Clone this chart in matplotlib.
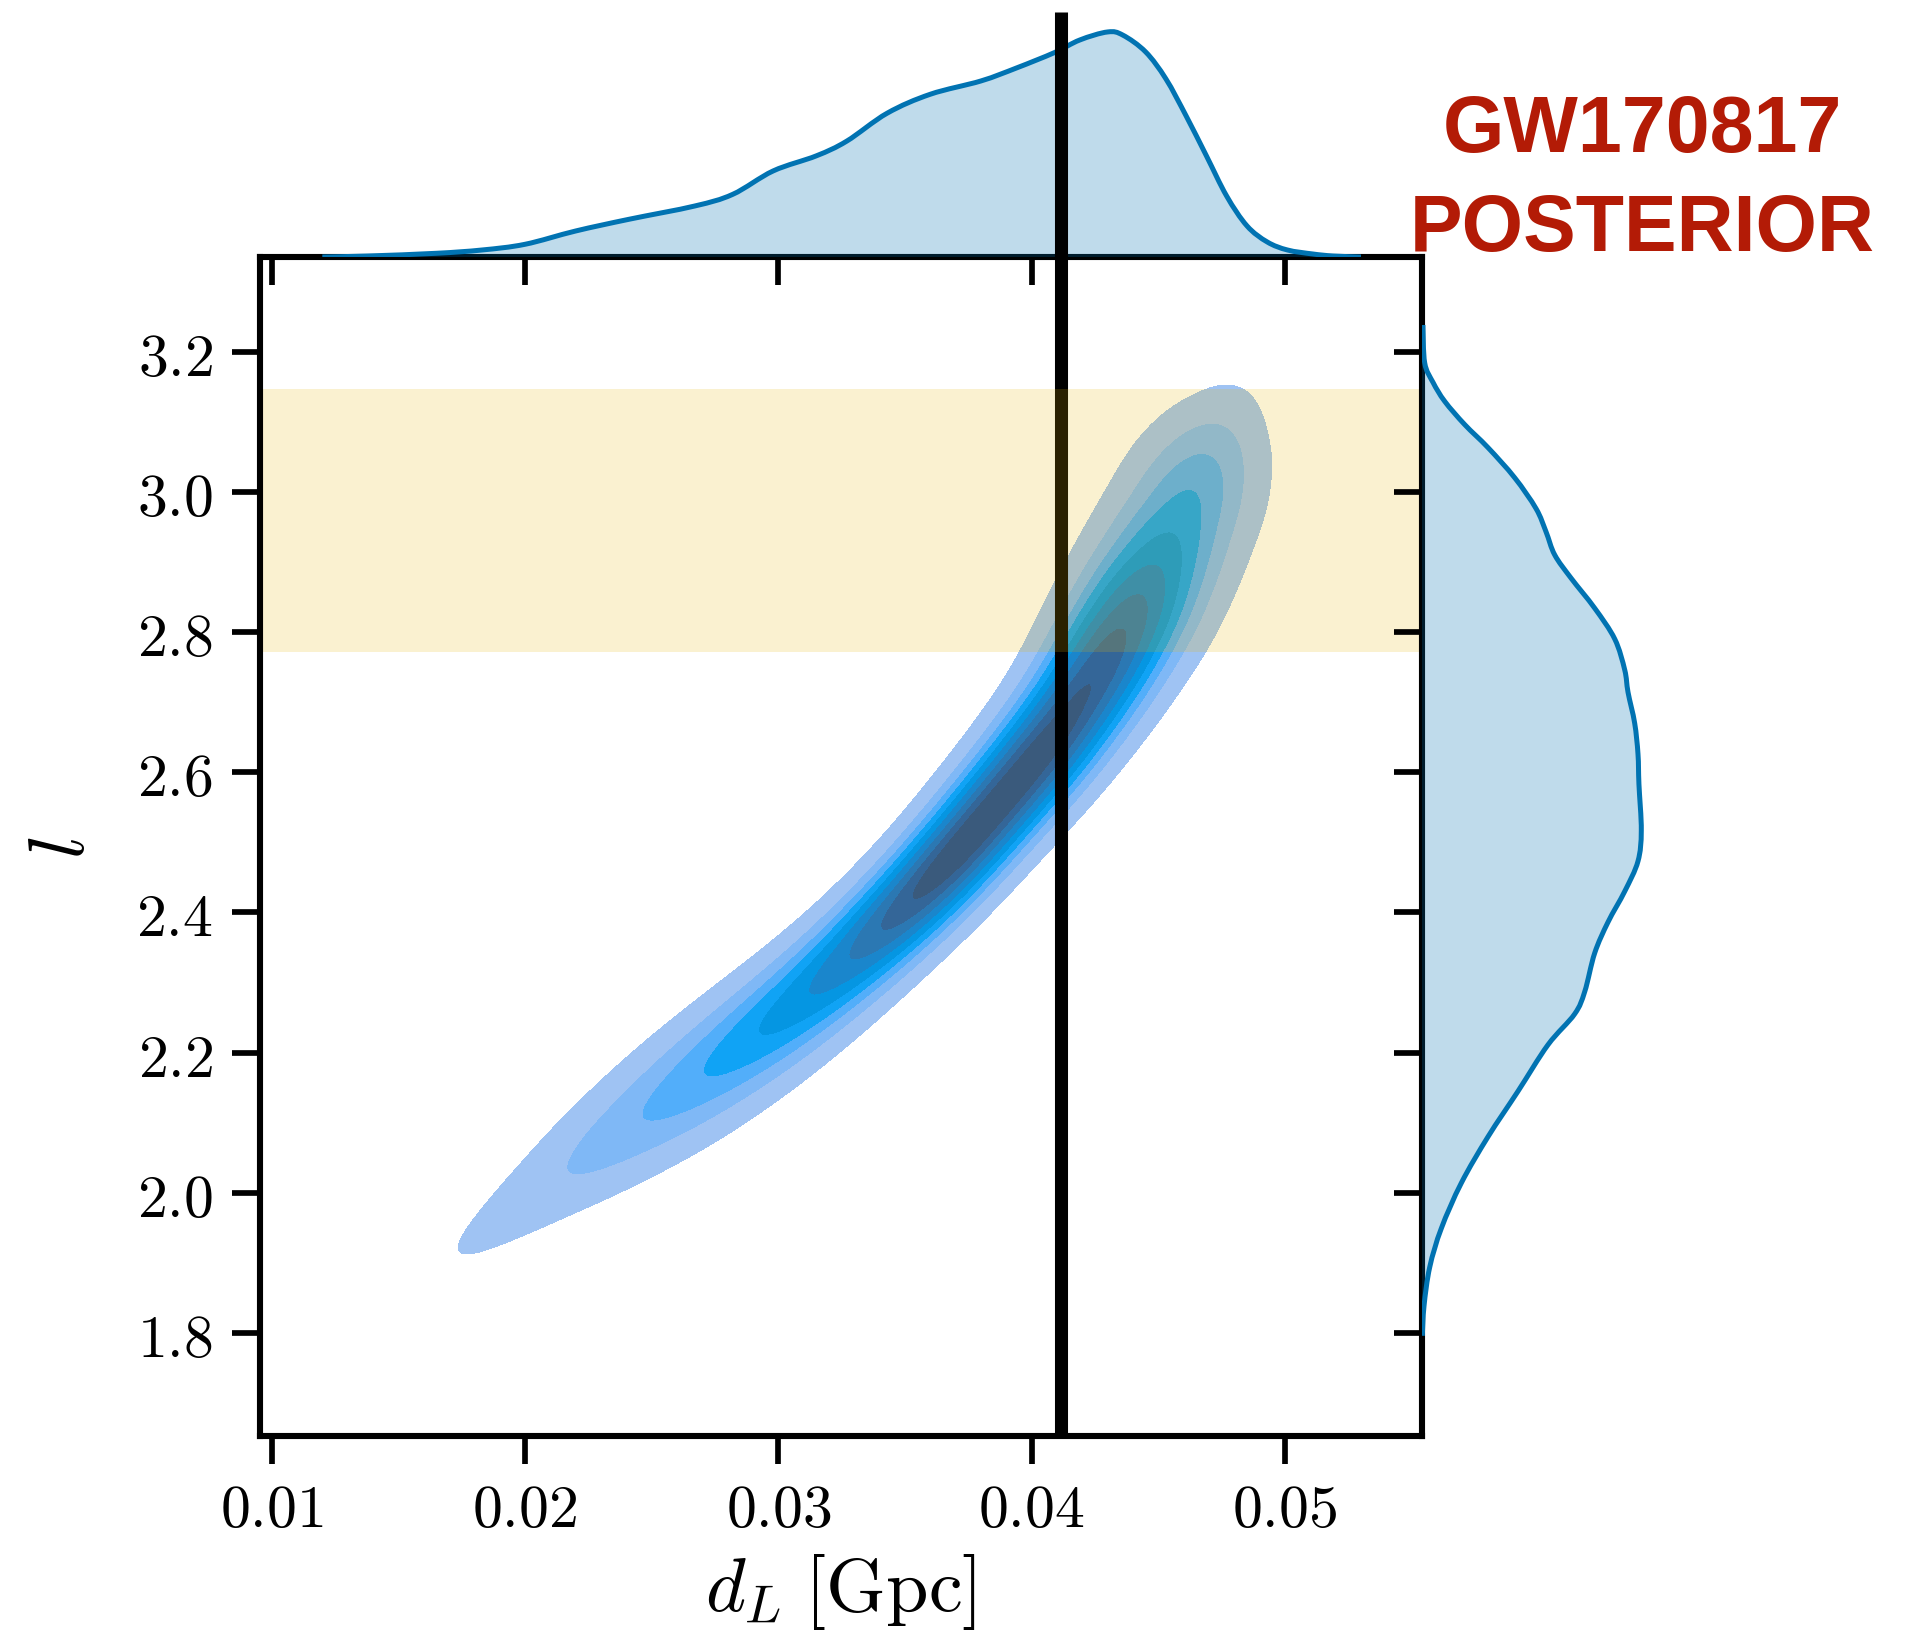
import numpy as np
import matplotlib
matplotlib.use("Agg")
import matplotlib.pyplot as plt
from matplotlib.ticker import FuncFormatter
from matplotlib.path import Path
from matplotlib.patches import PathPatch

plt.rcParams["mathtext.fontset"] = "cm"

# ---- data -------------------------------------------------------------
# posterior ridge of the joint (d_L, l) density: centre line, relative peak
# density along it and its transverse spread (in units of l)
dl_ridge = np.array([0.01755, 0.02062, 0.02338, 0.02615, 0.02891, 0.03167,
                     0.03424, 0.03661, 0.03897, 0.04134, 0.04312, 0.04450,
                     0.04568, 0.04659, 0.04734, 0.04805])
l_ridge = np.array([1.920, 2.002, 2.074, 2.145, 2.219, 2.298, 2.383, 2.469,
                    2.569, 2.673, 2.776, 2.861, 2.947, 3.018, 3.075, 3.132])
ridge_peak = np.array([0.07, 0.13, 0.21, 0.30, 0.42, 0.56, 0.74, 0.92,
                       1.00, 0.95, 0.78, 0.58, 0.42, 0.29, 0.18, 0.08])
ridge_width_l = np.array([0.030, 0.0385, 0.046, 0.050, 0.048, 0.044,
                          0.0405, 0.0405, 0.0424, 0.046, 0.0514, 0.057,
                          0.059, 0.059, 0.054, 0.043])

# marginal posterior of d_L
dl_marg = np.array([0.0120, 0.0138, 0.0165, 0.0183, 0.0200, 0.0220, 0.0241,
                    0.0267, 0.0282, 0.0298, 0.0315, 0.0327, 0.0343, 0.0360,
                    0.0380, 0.0394, 0.0409, 0.0419, 0.0430, 0.0436, 0.0445,
                    0.0453, 0.0461, 0.0469, 0.0477, 0.0485, 0.0493, 0.0501,
                    0.0511, 0.0519, 0.0530])
dl_dens = np.array([0.0, 0.29, 1.06, 2.0, 3.63, 7.43, 10.77, 14.57, 17.9,
                    24.6, 28.9, 33.1, 41.1, 46.5, 50.3, 54.0, 58.4, 62.0,
                    64.3, 63.4, 58.6, 50.9, 40.3, 28.9, 17.4, 8.9, 4.3, 2.0,
                    0.86, 0.29, 0.0])

# marginal posterior of l
l_marg = np.array([3.238, 3.184, 3.156, 3.129, 3.096, 3.063, 3.020, 2.976,
                   2.943, 2.910, 2.877, 2.834, 2.790, 2.746, 2.714, 2.670,
                   2.626, 2.583, 2.517, 2.473, 2.430, 2.386, 2.342, 2.287,
                   2.255, 2.211, 2.145, 2.080, 2.014, 1.949, 1.894, 1.839,
                   1.796])
l_dens = np.array([0.006, 0.017, 0.070, 0.144, 0.270, 0.418, 0.587, 0.722,
                   0.785, 0.840, 0.943, 1.093, 1.220, 1.283, 1.304, 1.346,
                   1.367, 1.373, 1.388, 1.367, 1.283, 1.177, 1.093, 1.030,
                   0.966, 0.797, 0.608, 0.418, 0.249, 0.122, 0.049, 0.013,
                   0.002])

dl_ref = 0.04114          # reference distance
l_band = (2.772, 3.1465)  # allowed band in l

xticks = [0.01, 0.02, 0.03, 0.04, 0.05]
yticks = [1.8, 2.0, 2.2, 2.4, 2.6, 2.8, 3.0, 3.2]

# ---- style --------------------------------------------------------------
band_colors = ["#9fc3f3", "#7fb8f6", "#52aefa", "#10a3f5", "#0596e2",
               "#1a86cc", "#2b78b3", "#346698", "#3a5a7c"]
marg_color = "#0173b2"
title_color = "#b31b06"


def smooth_path(xs, ys, close_to=None):
    """Cubic (Catmull-Rom style) path running through the given points."""
    p = np.c_[xs, ys]
    ext = np.vstack([p[0], p, p[-1]])
    verts = [p[0]]
    codes = [Path.MOVETO]
    for i in range(len(p) - 1):
        c1 = ext[i + 1] + (ext[i + 2] - ext[i]) / 6.0
        c2 = ext[i + 2] - (ext[i + 3] - ext[i + 1]) / 6.0
        verts += [c1, c2, p[i + 1]]
        codes += [Path.CURVE4] * 3
    if close_to is not None:
        verts += list(close_to) + [p[0]]
        codes += [Path.LINETO] * len(close_to) + [Path.CLOSEPOLY]
    return Path(np.array(verts), codes)


W, H, DPI = 1922, 1640, 200
fig = plt.figure(figsize=(W / DPI, H / DPI), dpi=DPI)

x0, x1 = 260 / W, 1422 / W
y0, y1 = 1 - 1437 / H, 1 - 258 / H
ax = fig.add_axes([x0, y0, x1 - x0, y1 - y0])
ax_top = fig.add_axes([x0, y1, x1 - x0, (1 - 12.7 / H) - y1], sharex=ax)
ax_right = fig.add_axes([x1, y0, 245 / W, y1 - y0], sharey=ax)

ax.set_xlim(0.00954, 0.05541)
ax.set_ylim(1.653, 3.335)

# ---- joint density --------------------------------------------------------
gx = np.linspace(0.00954, 0.05541, 420)
gy = np.linspace(1.653, 3.335, 420)
GX, GY = np.meshgrid(gx, gy)
fig.canvas.draw()
T = ax.transData
grid_px = T.transform(np.c_[GX.ravel(), GY.ravel()])
node_px = T.transform(np.c_[dl_ridge, l_ridge])
px_per_l = T.transform((0, 1))[1] - T.transform((0, 0))[1]
sig_perp = ridge_width_l * px_per_l

tang = np.gradient(node_px, axis=0)
tang /= np.linalg.norm(tang, axis=1)[:, None]
norm = np.c_[-tang[:, 1], tang[:, 0]]
step = np.linalg.norm(np.diff(node_px, axis=0), axis=1)
spacing = np.r_[step[0], 0.5 * (step[:-1] + step[1:]), step[-1]]
sig_par = 0.65 * spacing

Z = np.zeros(len(grid_px))
for k in range(len(dl_ridge)):
    d = grid_px - node_px[k]
    a = d @ tang[k]
    b = d @ norm[k]
    Z += ridge_peak[k] * np.exp(-0.5 * (a / sig_par[k]) ** 2
                                - 0.5 * (b / sig_perp[k]) ** 2)
Z = Z.reshape(GX.shape)

# iso-proportion levels
flat = np.sort(Z.ravel())
cum = np.cumsum(flat)
cum /= cum[-1]
levels = [flat[np.searchsorted(cum, q)] for q in np.linspace(0.05, 1, 10)[:-1]]
levels.append(Z.max() * 1.001)
ax.contourf(GX, GY, Z, levels=levels, colors=band_colors, zorder=1)

ax.axvline(dl_ref, color="black", lw=4.7, solid_capstyle="butt", zorder=3)
ax.axhspan(*l_band, color="#e8b800", alpha=0.185, lw=0, zorder=4)

# ---- axes styling -----------------------------------------------------------
for s in ax.spines.values():
    s.set_linewidth(2.2)
    s.set_zorder(6)
ax.set_xticks(xticks)
ax.set_yticks(yticks)
ax.xaxis.set_major_formatter(FuncFormatter(lambda v, p: f"${v:.2f}$"))
ax.yaxis.set_major_formatter(FuncFormatter(lambda v, p: f"${v:.1f}$"))
ax.tick_params(direction="out", length=10, width=2.05, labelsize=21.5,
               pad=7)
ax.tick_params(axis="x", pad=6)
ax.set_xlabel(r"$d_L\;[\mathrm{Gpc}]$", fontsize=27.5, labelpad=4)
ax.set_ylabel(r"$l$", fontsize=28)
ax.yaxis.set_label_coords(-0.138, 0.5)

# ---- marginals ----------------------------------------------------------
top_curve = smooth_path(dl_marg, dl_dens)
top_fill = smooth_path(dl_marg, dl_dens,
                       close_to=[(dl_marg[-1], 0.0), (dl_marg[0], 0.0)])
ax_top.add_patch(PathPatch(top_fill, facecolor=marg_color, alpha=0.25,
                           lw=0))
ax_top.add_patch(PathPatch(top_curve, facecolor="none",
                           edgecolor=marg_color, lw=1.8))
ax_top.set_ylim(0, 245.3 / 3.5)
ax_top.axvline(dl_ref, color="black", lw=4.7, solid_capstyle="butt")
for s in ax_top.spines.values():
    s.set_visible(False)
ax_top.tick_params(axis="x", direction="out", length=10, width=2.05,
                   labelbottom=False)
ax_top.tick_params(axis="y", left=False, labelleft=False)
ax_top.patch.set_alpha(0)

right_curve = smooth_path(l_dens, l_marg)
right_fill = smooth_path(l_dens, l_marg,
                         close_to=[(0.0, l_marg[-1]), (0.0, l_marg[0])])
ax_right.add_patch(PathPatch(right_fill, facecolor=marg_color, alpha=0.25,
                             lw=0))
ax_right.add_patch(PathPatch(right_curve, facecolor="none",
                             edgecolor=marg_color, lw=1.8))
ax_right.set_xlim(0, 245 / 158)
for s in ax_right.spines.values():
    s.set_visible(False)
ax_right.tick_params(axis="y", direction="out", length=10, width=2.05,
                     labelleft=False)
ax_right.tick_params(axis="x", bottom=False, labelbottom=False)
ax_right.patch.set_alpha(0)

fig.text(1642.4 / W, 1 - 151.7 / H, "GW170817", ha="center", va="baseline",
         fontsize=28.4, fontweight="bold", family="Liberation Sans",
         color=title_color)
fig.text(1642.4 / W, 1 - 250.7 / H, "POSTERIOR", ha="center", va="baseline",
         fontsize=28.4, fontweight="bold", family="Liberation Sans",
         color=title_color)

fig.savefig("out.png", dpi=DPI)
